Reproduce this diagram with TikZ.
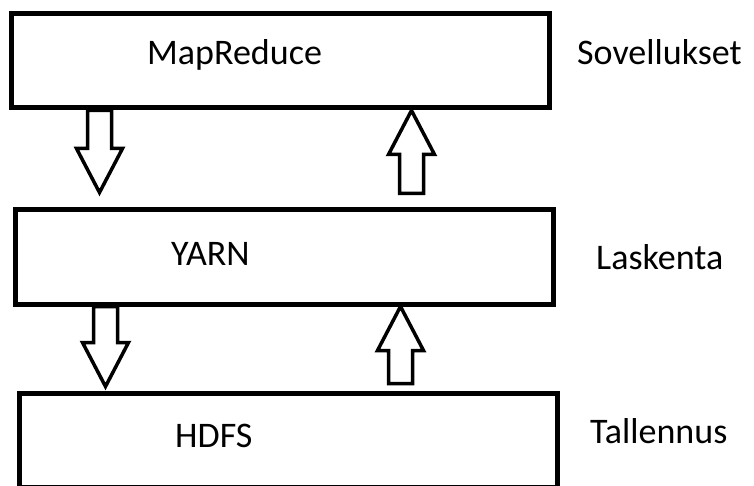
\documentclass[tikz,border=0pt]{standalone}
\usepackage{fontspec}
\setmainfont{Carlito}
\usetikzlibrary{calc}

\tikzset{
  layer/.style={draw, line width=5pt, minimum width=538pt, minimum height=94pt, inner sep=0pt},
  caption/.style={font=\fontsize{36}{43}\selectfont, inner sep=0pt, anchor=base west},
  blockline/.style={line width=3.5pt, line join=miter}
}

% hollow block arrow from tail #1 to tip #2
\newcommand{\blockarrow}[2]{%
  \draw[blockline] let \p1=(#1), \p2=(#2), \p3=($(#2)!44pt!(#1)$) in
    (\x1-12pt,\y1) -- (\x1-12pt,\y3) -- (\x1-23pt,\y3) -- (\x2,\y2)
    -- (\x1+23pt,\y3) -- (\x1+12pt,\y3) -- (\x1+12pt,\y1) -- cycle;}

\begin{document}
\begin{tikzpicture}[x=1pt,y=1pt]
\useasboundingbox (0,0) rectangle (754,485);

\node[layer] (map)  at (280,424) {};
\node[layer] (yarn) at (284,228) {};
\node[layer] (hdfs) at (288,45) {};

\node[caption] (maptext)  at (147,420) {MapReduce};
\node[caption] (yarntext) at (171,220) {YARN};
\node[caption] (hdfstext) at (175,38)  {HDFS};

%Ebenen
\node[caption] (app)   at (577,420) {Sovellukset};
\node[caption] (comp)  at (596,216) {Laskenta};
\node[caption] (store) at (590,42)  {Tallennus};

\coordinate (d1s) at ([xshift=91pt]map.south west);
\coordinate (d1e) at ([xshift=87pt,yshift=15pt]yarn.north west);
\coordinate (u1s) at ([xshift=399pt,yshift=14pt]yarn.north west);
\coordinate (u1e) at ([xshift=403pt]map.south west);
\coordinate (d2s) at ([xshift=93pt]yarn.south west);
\coordinate (d2e) at ([xshift=89pt,yshift=4pt]hdfs.north west);
\coordinate (u2s) at ([xshift=384pt,yshift=7pt]hdfs.north west);
\coordinate (u2e) at ([xshift=388pt]yarn.south west);

\blockarrow{d1s}{d1e}
\blockarrow{u1s}{u1e}
\blockarrow{d2s}{d2e}
\blockarrow{u2s}{u2e}

\end{tikzpicture}
\end{document}
